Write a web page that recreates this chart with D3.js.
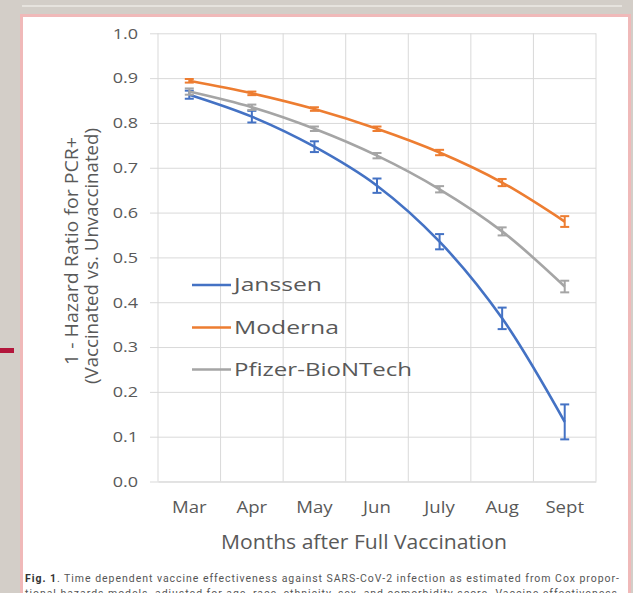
<!DOCTYPE html>
<html><head><meta charset="utf-8">
<script src="https://cdn.jsdelivr.net/npm/d3@7"></script>
<style>
html,body{margin:0;padding:0;background:#d3cec8;overflow:hidden;}
svg{display:block;}
</style></head>
<body>
<script>
// ---- data ----
const months = ["Mar","Apr","May","Jun","July","Aug","Sept"];
const yTicks = [0,0.1,0.2,0.3,0.4,0.5,0.6,0.7,0.8,0.9,1.0];
const seriesNames = ["Janssen","Moderna","Pfizer-BioNTech"];
const janssen    = [0.863,0.814,0.747,0.660,0.535,0.364,0.133];
const janssenErr = [0.009,0.013,0.012,0.016,0.017,0.024,0.039];
const moderna    = [0.894,0.866,0.831,0.787,0.734,0.667,0.580];
const modernaErr = [0.004,0.004,0.004,0.005,0.006,0.008,0.012];
const pfizer     = [0.870,0.835,0.787,0.727,0.652,0.558,0.435];
const pfizerErr  = [0.007,0.006,0.005,0.006,0.007,0.009,0.013];
const colors = ["#4472c4","#ed7d31","#a5a5a5"];
const xTitle = "Months after Full Vaccination";
const yTitle1 = "1 - Hazard Ratio for PCR+";
const yTitle2 = "(Vaccinated vs. Unvaccinated)";
const captionBold = "Fig. 1";
const caption1 = ". Time dependent vaccine effectiveness against SARS-CoV-2 infection as estimated from Cox propor-";
const caption2 = "tional hazards models, adjusted for age, race, ethnicity, sex, and comorbidity score. Vaccine effectiveness";

const W = 633, H = 593;
const svg = d3.select("body").append("svg").attr("width", W).attr("height", H);

// page background + panel
svg.append("rect").attr("width", W).attr("height", H).attr("fill", "#d3cec8");
svg.append("line").attr("x1", 22).attr("x2", 622).attr("y1", 6).attr("y2", 6)
  .attr("stroke", "#eceae6").attr("stroke-width", 1.5);
svg.append("rect").attr("x", 21.5).attr("y", 15.5).attr("width", 608).attr("height", 600)
  .attr("fill", "#ffffff").attr("stroke", "#f0b9b9").attr("stroke-width", 3);
svg.append("rect").attr("x", 0).attr("y", 348).attr("width", 14).attr("height", 5).attr("fill", "#b3173c");

const x = d3.scaleBand().domain(months).range([158, 596]).padding(0);
const y = d3.scaleLinear().domain([0, 1]).range([481.5, 33.3]);

const textCol = "#595959";
const font = "'Open Sans', sans-serif";

// horizontal gridlines + y axis
const yAxis = d3.axisLeft(y).tickValues(yTicks).tickFormat(d3.format(".1f"))
  .tickSize(8 + (596 - 158)).tickSizeOuter(0).tickPadding(12);
const gy = svg.append("g").attr("transform", "translate(596,0)").call(yAxis);
gy.select(".domain").remove();
gy.selectAll(".tick line").attr("stroke", "#d9d9d9").attr("stroke-width", 1);
gy.selectAll(".tick text").attr("fill", textCol).attr("font-family", font).attr("font-size", 15)
  .each(function(){ const l = this.getComputedTextLength(); d3.select(this).attr("textLength", l*1.2).attr("lengthAdjust","spacingAndGlyphs"); });

// vertical gridlines at category boundaries
const bounds = months.map(m => x(m)).concat([x(months[months.length-1]) + x.bandwidth()]);
svg.append("g").selectAll("line").data(bounds).join("line")
  .attr("x1", d => d).attr("x2", d => d).attr("y1", y(1)).attr("y2", y(0))
  .attr("stroke", "#d9d9d9").attr("stroke-width", 1);

// x axis labels
const xAxis = d3.axisBottom(x).tickSize(0).tickPadding(20);
const gx = svg.append("g").attr("transform", `translate(0,${y(0)})`).call(xAxis);
gx.select(".domain").attr("stroke", "#d9d9d9");
gx.selectAll(".tick text").attr("fill", textCol).attr("font-family", font).attr("font-size", 15.5)
  .each(function(){ const l = this.getComputedTextLength(); d3.select(this).attr("textLength", l*1.2).attr("lengthAdjust","spacingAndGlyphs"); });

// x title
svg.append("text").attr("x", 364).attr("y", 549).attr("text-anchor", "middle")
  .attr("fill", textCol).attr("font-family", font).attr("font-size", 20)
  .attr("textLength", 286).attr("lengthAdjust", "spacingAndGlyphs").text(xTitle);

// y titles
svg.append("text").attr("transform", "translate(78,251) rotate(-90)").attr("text-anchor", "middle")
  .attr("fill", textCol).attr("font-family", font).attr("font-size", 17.5)
  .attr("textLength", 228).attr("lengthAdjust", "spacingAndGlyphs").text(yTitle1);
svg.append("text").attr("transform", "translate(98,256) rotate(-90)").attr("text-anchor", "middle")
  .attr("fill", textCol).attr("font-family", font).attr("font-size", 17.5)
  .attr("textLength", 256).attr("lengthAdjust", "spacingAndGlyphs").text(yTitle2);

// series
const series = [
  {name: seriesNames[0], vals: janssen, errs: janssenErr, color: colors[0]},
  {name: seriesNames[1], vals: moderna, errs: modernaErr, color: colors[1]},
  {name: seriesNames[2], vals: pfizer,  errs: pfizerErr,  color: colors[2]}
];
const cx = m => x(m) + x.bandwidth()/2;
const line = d3.line().x((d,i) => cx(months[i])).y(d => y(d)).curve(d3.curveCatmullRom.alpha(0.5));

series.forEach(s => {
  svg.append("path").datum(s.vals).attr("d", line).attr("fill", "none")
    .attr("stroke", s.color).attr("stroke-width", 2.6).attr("stroke-linejoin", "round");
  const eg = svg.append("g").attr("stroke", s.color).attr("stroke-width", 2);
  s.vals.forEach((v, i) => {
    const xx = cx(months[i]), lo = y(v - s.errs[i]), hi = y(v + s.errs[i]);
    eg.append("line").attr("x1", xx).attr("x2", xx).attr("y1", lo).attr("y2", hi);
    eg.append("line").attr("x1", xx-4.5).attr("x2", xx+4.5).attr("y1", lo).attr("y2", lo);
    eg.append("line").attr("x1", xx-4.5).attr("x2", xx+4.5).attr("y1", hi).attr("y2", hi);
  });
});

// legend
const legendY = [285, 327.5, 369.5];
const legendW = [88, 105, 178];
series.forEach((s, i) => {
  svg.append("line").attr("x1", 192).attr("x2", 231).attr("y1", legendY[i]).attr("y2", legendY[i])
    .attr("stroke", s.color).attr("stroke-width", 2.6);
  svg.append("text").attr("x", 234).attr("y", legendY[i]).attr("dy", "0.35em")
    .attr("fill", textCol).attr("font-family", font).attr("font-size", 18.5)
    .attr("textLength", legendW[i]).attr("lengthAdjust", "spacingAndGlyphs").text(s.name);
});

// caption
const cap = svg.append("text").attr("x", 25).attr("y", 582).attr("font-family", "Roboto, sans-serif")
  .attr("font-size", 10.5).attr("fill", "#555").attr("textLength", 594).attr("lengthAdjust", "spacing");
cap.append("tspan").attr("font-weight", "bold").attr("fill", "#333").text(captionBold);
cap.append("tspan").text(caption1);
svg.append("text").attr("x", 25).attr("y", 597).attr("font-family", "Roboto, sans-serif")
  .attr("font-size", 10.5).attr("fill", "#555").attr("textLength", 592).attr("lengthAdjust", "spacing").text(caption2);
</script>
</body></html>
